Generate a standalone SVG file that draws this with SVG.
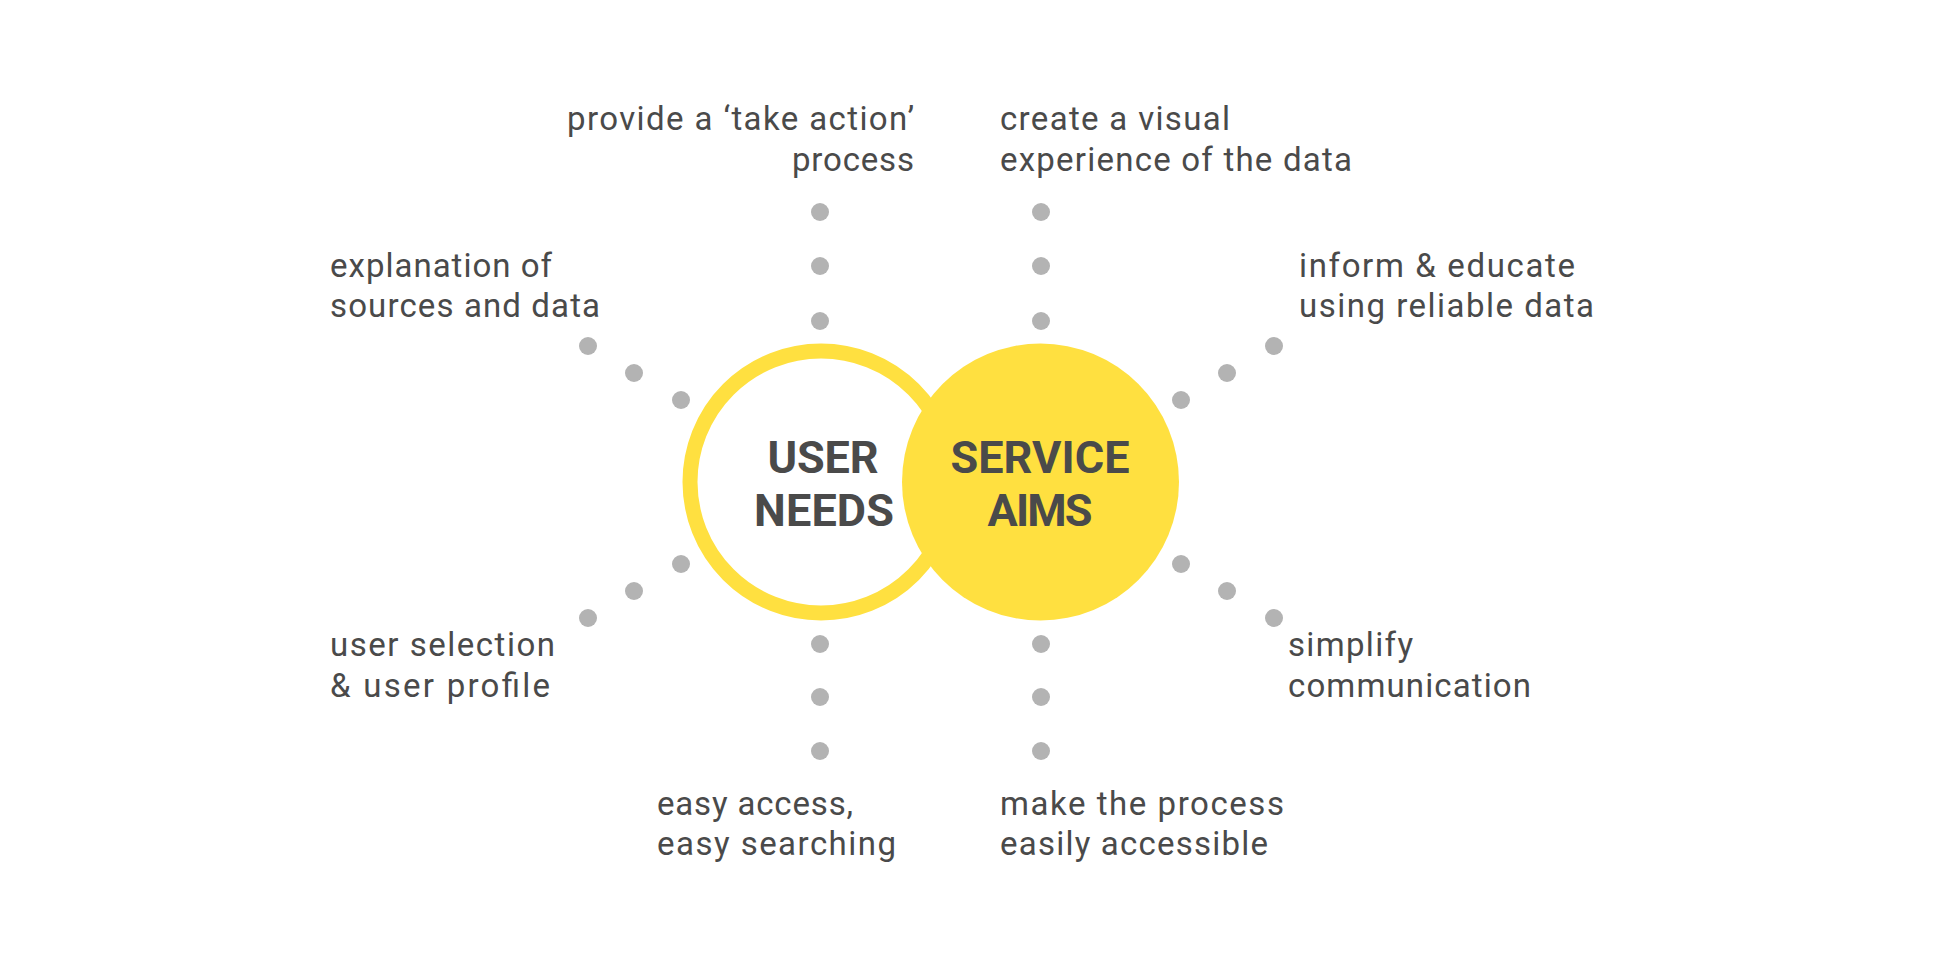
<svg xmlns="http://www.w3.org/2000/svg" width="1934" height="970" viewBox="0 0 1934 970">
  <style>
    .label { font-family: Roboto, "Liberation Sans", sans-serif; font-size: 33px; fill: #4a4a4a; }
    .title { font-family: Roboto, "Liberation Sans", sans-serif; font-size: 45px; font-weight: bold; fill: #4a4a4a; text-anchor: middle; }
    .dot { fill: #b3b3b3; }
    .ring { fill: #ffffff; stroke: #ffe040; stroke-width: 15; }
    .disc { fill: #ffe040; }
  </style>
  <rect width="1934" height="970" fill="#ffffff"/>

  <!-- dotted spokes radiating from the two circles -->
  <g id="connectors">
    <!-- top, user needs column -->
    <circle class="dot" cx="820" cy="212" r="9"/>
    <circle class="dot" cx="820" cy="266" r="9"/>
    <circle class="dot" cx="820" cy="321" r="9"/>
    <!-- top, service aims column -->
    <circle class="dot" cx="1041" cy="212" r="9"/>
    <circle class="dot" cx="1041" cy="266" r="9"/>
    <circle class="dot" cx="1041" cy="321" r="9"/>
    <!-- upper left diagonal -->
    <circle class="dot" cx="588" cy="346" r="9"/>
    <circle class="dot" cx="634" cy="373" r="9"/>
    <circle class="dot" cx="681" cy="400" r="9"/>
    <!-- lower left diagonal -->
    <circle class="dot" cx="681" cy="564" r="9"/>
    <circle class="dot" cx="634" cy="591" r="9"/>
    <circle class="dot" cx="588" cy="618" r="9"/>
    <!-- upper right diagonal -->
    <circle class="dot" cx="1181" cy="400" r="9"/>
    <circle class="dot" cx="1227" cy="373" r="9"/>
    <circle class="dot" cx="1274" cy="346" r="9"/>
    <!-- lower right diagonal -->
    <circle class="dot" cx="1181" cy="564" r="9"/>
    <circle class="dot" cx="1227" cy="591" r="9"/>
    <circle class="dot" cx="1274" cy="618" r="9"/>
    <!-- bottom, user needs column -->
    <circle class="dot" cx="820" cy="644" r="9"/>
    <circle class="dot" cx="820" cy="697" r="9"/>
    <circle class="dot" cx="820" cy="751" r="9"/>
    <!-- bottom, service aims column -->
    <circle class="dot" cx="1041" cy="644" r="9"/>
    <circle class="dot" cx="1041" cy="697" r="9"/>
    <circle class="dot" cx="1041" cy="751" r="9"/>
  </g>

  <g id="user-needs">
    <circle class="ring" cx="821" cy="482" r="131"/>
    <text class="title" x="823" y="473" textLength="111" lengthAdjust="spacing">USER</text>
    <text class="title" x="824" y="526" textLength="140" lengthAdjust="spacing">NEEDS</text>
  </g>

  <g id="service-aims">
    <circle class="disc" cx="1040.5" cy="482" r="138.5"/>
    <text class="title" x="1040" y="473" textLength="179" lengthAdjust="spacing">SERVICE</text>
    <text class="title" x="1040" y="526" textLength="105" lengthAdjust="spacing">AIMS</text>
  </g>

  <g id="take-action">
    <text class="label" x="567" y="130" textLength="347" lengthAdjust="spacing">provide a ‘take action’</text>
    <text class="label" x="792" y="171" textLength="122" lengthAdjust="spacing">process</text>
  </g>

  <g id="visual-experience">
    <text class="label" x="1000" y="130" textLength="230" lengthAdjust="spacing">create a visual</text>
    <text class="label" x="1000" y="171" textLength="352" lengthAdjust="spacing">experience of the data</text>
  </g>

  <g id="sources">
    <text class="label" x="330" y="277" textLength="222" lengthAdjust="spacing">explanation of</text>
    <text class="label" x="330" y="317" textLength="270" lengthAdjust="spacing">sources and data</text>
  </g>

  <g id="inform-educate">
    <text class="label" x="1299" y="277" textLength="276" lengthAdjust="spacing">inform &amp; educate</text>
    <text class="label" x="1299" y="317" textLength="295" lengthAdjust="spacing">using reliable data</text>
  </g>

  <g id="user-selection">
    <text class="label" x="330" y="656" textLength="225" lengthAdjust="spacing">user selection</text>
    <text class="label" x="330" y="697" textLength="220" lengthAdjust="spacing">&amp; user profile</text>
  </g>

  <g id="simplify">
    <text class="label" x="1288" y="656" textLength="125" lengthAdjust="spacing">simplify</text>
    <text class="label" x="1288" y="697" textLength="243" lengthAdjust="spacing">communication</text>
  </g>

  <g id="easy-access">
    <text class="label" x="657" y="815" textLength="196" lengthAdjust="spacing">easy access,</text>
    <text class="label" x="657" y="855" textLength="239" lengthAdjust="spacing">easy searching</text>
  </g>

  <g id="accessible-process">
    <text class="label" x="1000" y="815" textLength="284" lengthAdjust="spacing">make the process</text>
    <text class="label" x="1000" y="855" textLength="268" lengthAdjust="spacing">easily accessible</text>
  </g>
</svg>
